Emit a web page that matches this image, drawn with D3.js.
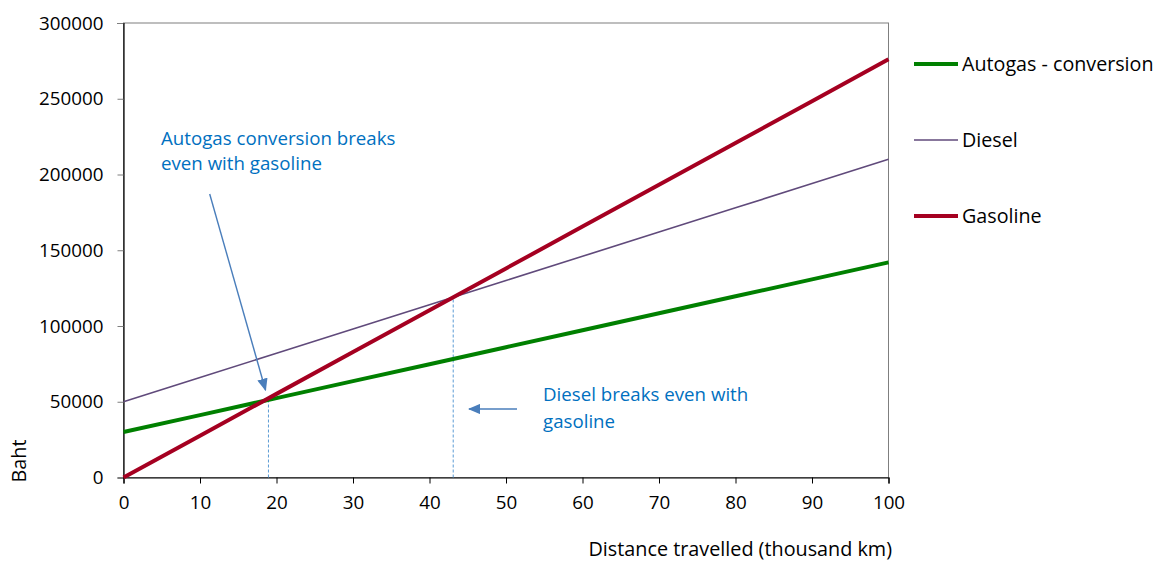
<!DOCTYPE html>
<html>
<head>
<meta charset="utf-8">
<script src="https://cdn.jsdelivr.net/npm/d3@7"></script>
<style>
  html, body { margin: 0; padding: 0; background: #fff; }
  svg text { font-family: "Open Sans", Lato, sans-serif; }
</style>
</head>
<body>
<svg id="chart" width="1163" height="563"></svg>
<script>
// ---- data ----
const distance = [0, 10, 20, 30, 40, 50, 60, 70, 80, 90, 100];
const autogas  = [30000, 41200, 52400, 63600, 74800, 86000, 97200, 108400, 119600, 130800, 142000];
const diesel   = [50000, 66000, 82000, 98000, 114000, 130000, 146000, 162000, 178000, 194000, 210000];
const gasoline = [0, 27600, 55200, 82800, 110400, 138000, 165600, 193200, 220800, 248400, 276000];
const seriesNames = ["Autogas - conversion", "Diesel", "Gasoline"];
const yTicks = [0, 50000, 100000, 150000, 200000, 250000, 300000];
const xTicks = [0, 10, 20, 30, 40, 50, 60, 70, 80, 90, 100];
const breakEvenAutogas = 18.95;  // thousand km
const breakEvenDiesel = 43.1;    // thousand km
const annotation1 = ["Autogas conversion breaks", "even with gasoline"];
const annotation2 = ["Diesel breaks even with", "gasoline"];

// ---- layout ----
const svg = d3.select("#chart");
const L = 123.5, R = 888.5, T = 23, B = 477.5;
const x = d3.scaleLinear().domain([0, 100]).range([L, R]);
const y = d3.scaleLinear().domain([0, 300000]).range([B, T]);
const FS_TITLE = 19.8, FS_LEG = 19.7, FS_ANNO = 18.7, FS_TICK = 18.8;

const series = [
  { name: seriesNames[0], values: autogas,  color: "#008000", width: 4 },
  { name: seriesNames[1], values: diesel,   color: "#604a7b", width: 1.6 },
  { name: seriesNames[2], values: gasoline, color: "#a50021", width: 4 }
];

// plot border
svg.append("rect").attr("x", L).attr("y", T).attr("width", R - L).attr("height", B - T)
  .attr("fill", "none").attr("stroke", "#7f7f7f").attr("stroke-width", 1);

// axes
const yAxis = d3.axisLeft(y).tickValues(yTicks).tickFormat(d3.format("d")).tickSizeOuter(0).tickSize(6).tickPadding(14);
const gy = svg.append("g").attr("transform", `translate(${L},0)`).call(yAxis);
gy.select(".domain").attr("stroke", "#000").attr("stroke-width", 1.2);
gy.selectAll(".tick line").attr("stroke", "#7f7f7f");
gy.selectAll(".tick text").attr("font-size", FS_TICK).attr("fill", "#000")
  .style("font-family", "'Open Sans', sans-serif");

const xAxis = d3.axisBottom(x).tickValues(xTicks).tickSizeOuter(0).tickSize(6).tickPadding(12);
const gx = svg.append("g").attr("transform", `translate(0,${B})`).call(xAxis);
gx.select(".domain").attr("stroke", "#000").attr("stroke-width", 1.2);
gx.selectAll(".tick line").attr("stroke", "#000");
gx.selectAll(".tick text").attr("font-size", FS_TICK).attr("fill", "#000")
  .style("font-family", "'Open Sans', sans-serif");

// axis titles
svg.append("text").attr("x", 892).attr("y", 556).attr("text-anchor", "end")
  .attr("font-size", FS_TITLE).attr("fill", "#000").text("Distance travelled (thousand km)");
svg.append("text").attr("transform", "translate(26,461) rotate(-90)").attr("text-anchor", "middle")
  .attr("font-size", FS_TITLE).attr("fill", "#000").text("Baht");

// dashed break-even lines
const interp = (arr, xv) => {
  const i = Math.min(Math.floor(xv / 10), arr.length - 2);
  const t = (xv - distance[i]) / 10;
  return arr[i] + t * (arr[i + 1] - arr[i]);
};
[[breakEvenAutogas, autogas], [breakEvenDiesel, diesel]].forEach(([bx, arr]) => {
  svg.append("line").attr("x1", x(bx)).attr("x2", x(bx))
    .attr("y1", y(0)).attr("y2", y(interp(arr, bx)))
    .attr("stroke", "#5b9bd5").attr("stroke-width", 1).attr("stroke-dasharray", "3,2");
});

// series lines
const line = d3.line().x((d, i) => x(distance[i])).y(d => y(d));
series.forEach(s => {
  svg.append("path").datum(s.values).attr("d", line)
    .attr("fill", "none").attr("stroke", s.color).attr("stroke-width", s.width)
    .attr("stroke-linejoin", "round");
});

// legend
const legY = [64, 140, 216];
series.forEach((s, i) => {
  svg.append("line").attr("x1", 914).attr("x2", 958).attr("y1", legY[i]).attr("y2", legY[i])
    .attr("stroke", s.color).attr("stroke-width", s.width);
  svg.append("text").attr("x", 962).attr("y", legY[i] + 7).attr("font-size", FS_LEG)
    .attr("fill", "#000").text(s.name);
});

// annotations
const defs = svg.append("defs");
defs.append("marker").attr("id", "arrow").attr("viewBox", "0 0 10 10")
  .attr("refX", 9).attr("refY", 5).attr("markerWidth", 9).attr("markerHeight", 7.5)
  .attr("markerUnits", "strokeWidth").attr("orient", "auto").attr("preserveAspectRatio", "none")
  .append("path").attr("d", "M0,0 L10,5 L0,10 z").attr("fill", "#4a7ebb");

const annoColor = "#0070c0";
annotation1.forEach((t, i) => {
  svg.append("text").attr("x", 161).attr("y", 145 + i * 25).attr("font-size", FS_ANNO)
    .attr("fill", annoColor).text(t);
});
annotation2.forEach((t, i) => {
  svg.append("text").attr("x", 543).attr("y", 401 + i * 27).attr("font-size", FS_ANNO)
    .attr("fill", annoColor).text(t);
});

svg.append("line").attr("x1", 209.7).attr("y1", 194).attr("x2", 265.5).attr("y2", 390)
  .attr("stroke", "#4a7ebb").attr("stroke-width", 1.4).attr("marker-end", "url(#arrow)");
svg.append("line").attr("x1", 517).attr("y1", 409).attr("x2", 469).attr("y2", 409)
  .attr("stroke", "#4a7ebb").attr("stroke-width", 1.4).attr("marker-end", "url(#arrow)");
</script>
</body>
</html>
